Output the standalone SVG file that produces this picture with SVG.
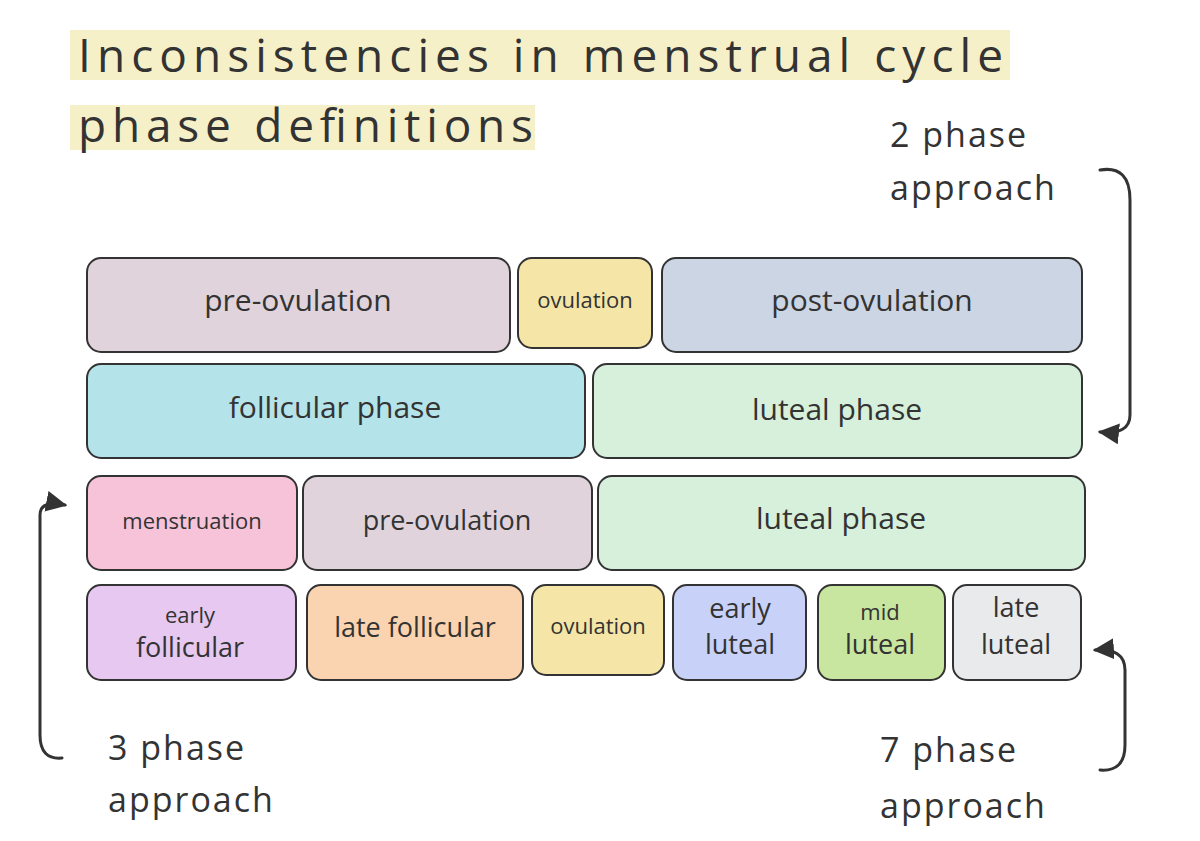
<svg xmlns="http://www.w3.org/2000/svg" width="1200" height="841" viewBox="0 0 1200 841">
<defs>
<style>
text{font-family:"Open Sans","Liberation Sans",sans-serif;fill:#333;}
.t{font-size:46px;}
.l{font-size:30px;text-anchor:middle;dominant-baseline:middle;}
.s{font-size:22px;text-anchor:middle;dominant-baseline:middle;}
.m{font-size:27px;text-anchor:middle;dominant-baseline:middle;}
.a{font-size:34px;letter-spacing:2px;}
rect.n{stroke:#333;stroke-width:2;}
.c{fill:none;stroke:#333;stroke-width:3;stroke-linecap:round;}
</style>
<marker id="ah" viewBox="0 0 10 10" refX="9" refY="5" markerWidth="7" markerHeight="7" orient="auto"><path d="M0,0 L10,5 L0,10 z" fill="#333"/></marker>
</defs>
<rect width="1200" height="841" fill="#fff"/>
<g id="title">
<rect x="70" y="30" width="940" height="50" fill="#f6f0c8"/>
<rect x="70" y="105" width="465" height="45" fill="#f6f0c8"/>
<text class="t" x="78" y="72" textLength="925" lengthAdjust="spacing">Inconsistencies in menstrual cycle</text>
<text class="t" x="78" y="142" textLength="455" lengthAdjust="spacing">phase definitions</text>
</g>
<g id="r1a"><rect class="n" x="87" y="258" width="423" height="94" rx="14" fill="#e0d3dc"/><text class="l" x="298" y="303">pre-ovulation</text></g>
<g id="r1b"><rect class="n" x="518" y="258" width="134" height="90" rx="14" fill="#f5e6a8"/><text class="s" x="585" y="302">ovulation</text></g>
<g id="r1c"><rect class="n" x="662" y="258" width="420" height="94" rx="14" fill="#ccd5e3"/><text class="l" x="872" y="303">post-ovulation</text></g>
<g id="r2a"><rect class="n" x="87" y="364" width="498" height="94" rx="14" fill="#b5e3ea"/><text class="l" x="335" y="410">follicular phase</text></g>
<g id="r2b"><rect class="n" x="593" y="364" width="489" height="94" rx="14" fill="#d6f0dc"/><text class="l" x="837" y="412">luteal phase</text></g>
<g id="r3a"><rect class="n" x="87" y="476" width="210" height="94" rx="14" fill="#f6c3d8"/><text class="s" x="192" y="523">menstruation</text></g>
<g id="r3b"><rect class="n" x="303" y="476" width="289" height="94" rx="14" fill="#e0d3dc"/><text class="m" x="447" y="523">pre-ovulation</text></g>
<g id="r3c"><rect class="n" x="598" y="476" width="487" height="94" rx="14" fill="#d6f0dc"/><text class="l" x="841" y="521">luteal phase</text></g>
<g id="r4a"><rect class="n" x="87" y="585" width="209" height="95" rx="14" fill="#e6c8f0"/><text class="s" x="190" y="617">early</text><text class="m" x="190" y="650">follicular</text></g>
<g id="r4b"><rect class="n" x="307" y="585" width="216" height="95" rx="14" fill="#fad4b0"/><text class="m" x="415" y="630">late follicular</text></g>
<g id="r4c"><rect class="n" x="532" y="585" width="132" height="90" rx="14" fill="#f5e6a8"/><text class="s" x="598" y="628">ovulation</text></g>
<g id="r4d"><rect class="n" x="673" y="585" width="133" height="95" rx="14" fill="#c8d2f8"/><text class="m" x="740" y="611">early</text><text class="m" x="740" y="647">luteal</text></g>
<g id="r4e"><rect class="n" x="818" y="585" width="127" height="95" rx="14" fill="#c9e6a0"/><text class="s" x="880" y="614">mid</text><text class="m" x="880" y="647">luteal</text></g>
<g id="r4f"><rect class="n" x="953" y="585" width="128" height="95" rx="14" fill="#e8eaec"/><text class="m" x="1016" y="610">late</text><text class="m" x="1016" y="647">luteal</text></g>
<g id="lab2"><text class="a" x="890" y="147">2 phase</text><text class="a" x="890" y="200">approach</text></g>
<g id="lab3"><text class="a" x="108" y="760">3 phase</text><text class="a" x="108" y="812">approach</text></g>
<g id="lab7"><text class="a" x="880" y="762">7 phase</text><text class="a" x="880" y="818">approach</text></g>
<g id="connectors">
<path class="c" d="M1100,170 Q1130,165 1130,200 L1130,415 Q1130,435 1100,432" marker-end="url(#ah)"/>
<path class="c" d="M62,758 Q40,760 40,735 L40,515 Q40,500 65,505" marker-end="url(#ah)"/>
<path class="c" d="M1100,770 Q1125,772 1125,745 L1125,670 Q1125,648 1095,650" marker-end="url(#ah)"/>
</g>
</svg>
